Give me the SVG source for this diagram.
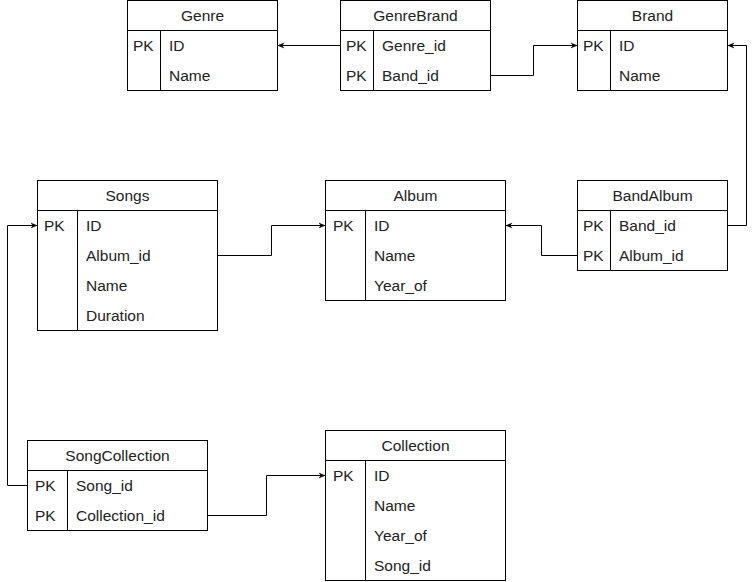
<svg xmlns="http://www.w3.org/2000/svg" width="756" height="582" viewBox="0 0 756 582">
<style>
.box{fill:#fff;stroke:#000;stroke-width:1}
.ln{stroke:#000;stroke-width:1;fill:none}
text{font-family:"Liberation Sans",Arial,sans-serif;font-size:15.5px;font-weight:normal;fill:#222}
.h{text-anchor:middle}
.conn{stroke:#000;stroke-width:1;fill:none;marker-end:url(#arr)}
</style>
<defs>
<marker id="arr" viewBox="0 0 8 8" refX="8" refY="4" markerWidth="7" markerHeight="7" orient="auto" markerUnits="userSpaceOnUse">
<path d="M0,0.5 L8,4 L0,7.5 L2.5,4 Z" fill="#000"/>
</marker>
</defs>
<rect width="756" height="582" fill="#fff"/>

<g id="Genre">
<rect class="box" x="127.5" y="0.5" width="150" height="90"/>
<path class="ln" d="M127.5,30.5 H277.5 M160.5,30.5 V90.5"/>
<text class="h" x="202.5" y="21">Genre</text>
<text x="133" y="51">PK</text><text x="169" y="51">ID</text>
<text x="169" y="81">Name</text>
</g>

<g id="GenreBrand">
<rect class="box" x="340.5" y="0.5" width="150" height="90"/>
<path class="ln" d="M340.5,30.5 H490.5 M373.5,30.5 V90.5"/>
<text class="h" x="415.5" y="21">GenreBrand</text>
<text x="346" y="51">PK</text><text x="382" y="51">Genre_id</text>
<text x="346" y="81">PK</text><text x="382" y="81">Band_id</text>
</g>

<g id="Brand">
<rect class="box" x="577.5" y="0.5" width="150" height="90"/>
<path class="ln" d="M577.5,30.5 H727.5 M610.5,30.5 V90.5"/>
<text class="h" x="652.5" y="21">Brand</text>
<text x="583" y="51">PK</text><text x="619" y="51">ID</text>
<text x="619" y="81">Name</text>
</g>

<g id="Songs">
<rect class="box" x="37.5" y="180.5" width="180" height="150"/>
<path class="ln" d="M37.5,210.5 H217.5 M77.5,210.5 V330.5"/>
<text class="h" x="127.5" y="201">Songs</text>
<text x="44" y="231">PK</text><text x="86" y="231">ID</text>
<text x="86" y="261">Album_id</text>
<text x="86" y="291">Name</text>
<text x="86" y="321">Duration</text>
</g>

<g id="Album">
<rect class="box" x="325.5" y="180.5" width="180" height="120"/>
<path class="ln" d="M325.5,210.5 H505.5 M365.5,210.5 V300.5"/>
<text class="h" x="415.5" y="201">Album</text>
<text x="333" y="231">PK</text><text x="374" y="231">ID</text>
<text x="374" y="261">Name</text>
<text x="374" y="291">Year_of</text>
</g>

<g id="BandAlbum">
<rect class="box" x="577.5" y="180.5" width="150" height="90"/>
<path class="ln" d="M577.5,210.5 H727.5 M610.5,210.5 V270.5"/>
<text class="h" x="652.5" y="201">BandAlbum</text>
<text x="583" y="231">PK</text><text x="619" y="231">Band_id</text>
<text x="583" y="261">PK</text><text x="619" y="261">Album_id</text>
</g>

<g id="SongCollection">
<rect class="box" x="27.5" y="440.5" width="180" height="90"/>
<path class="ln" d="M27.5,470.5 H207.5 M67.5,470.5 V530.5"/>
<text class="h" x="117.5" y="461">SongCollection</text>
<text x="35" y="491">PK</text><text x="76" y="491">Song_id</text>
<text x="35" y="521">PK</text><text x="76" y="521">Collection_id</text>
</g>

<g id="Collection">
<rect class="box" x="325.5" y="430.5" width="180" height="150"/>
<path class="ln" d="M325.5,460.5 H505.5 M365.5,460.5 V580.5"/>
<text class="h" x="415.5" y="451">Collection</text>
<text x="333" y="481">PK</text><text x="374" y="481">ID</text>
<text x="374" y="511">Name</text>
<text x="374" y="541">Year_of</text>
<text x="374" y="571">Song_id</text>
</g>

<g id="connectors">
<path class="conn" d="M340,45.5 H277.5"/>
<path class="conn" d="M490.5,75.5 H533.5 V45.5 H577.5"/>
<path class="conn" d="M727.5,225.5 H746.5 V45.5 H727.5"/>
<path class="conn" d="M577.5,255.5 H541.5 V225.5 H505.5"/>
<path class="conn" d="M217.5,255.5 H271.5 V225.5 H325.5"/>
<path class="conn" d="M27.5,485.5 H7.5 V225.5 H37.5"/>
<path class="conn" d="M207.5,515.5 H266.5 V475.5 H325.5"/>
</g>
</svg>
